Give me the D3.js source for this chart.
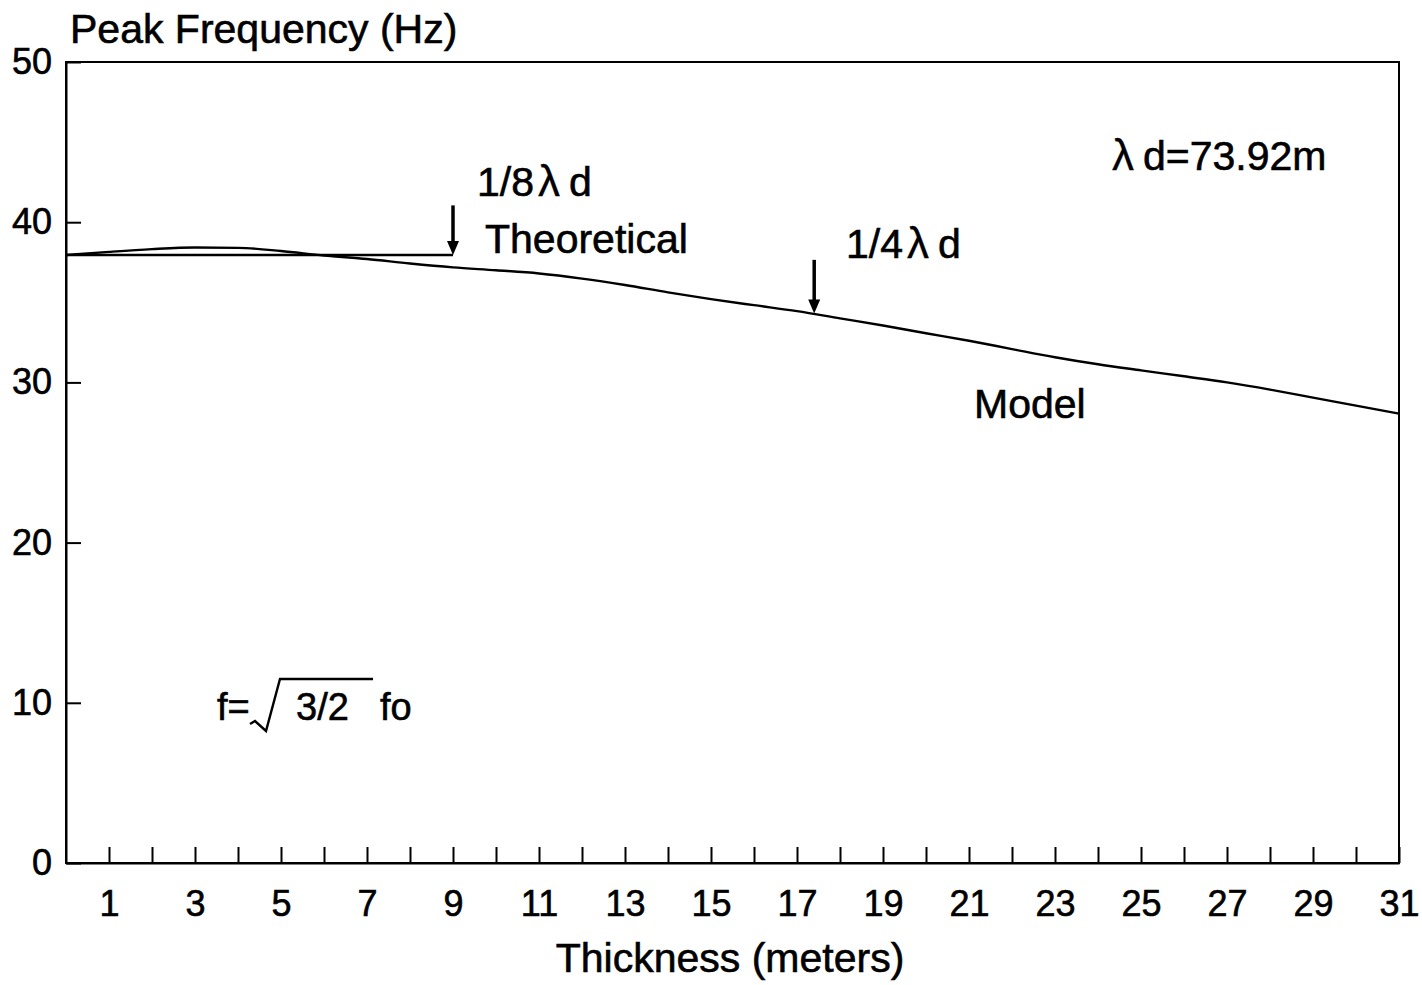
<!DOCTYPE html>
<html>
<head>
<meta charset="utf-8">
<script src="https://cdn.jsdelivr.net/npm/d3@7"></script>
<style>
  body { margin: 0; background: #fff; }
  svg { display: block; font-family: "Liberation Sans", Arial, Helvetica, sans-serif; }
  svg text { fill: #000; stroke: #000; stroke-width: 0.6px; }
  .axis path, .axis line { stroke: #000; stroke-width: 2; }
  .axis text { font-size: 36px; }
</style>
</head>
<body>
<div id="chart"></div>
<script>
// thickness in meters
const thickness = [0, 1, 2, 3, 4, 5, 6, 7, 8, 9, 10, 11, 12, 13, 14, 15, 16, 17, 18, 19, 20, 21, 22, 23, 24, 25, 26, 27, 28, 29, 30, 31];
// model peak frequency (Hz)
const modelFreq = [37.95, 38.15, 38.32, 38.42, 38.4, 38.2, 37.92, 37.7, 37.42, 37.18, 37.0, 36.8, 36.48, 36.08, 35.62, 35.2, 34.82, 34.45, 34.0, 33.55, 33.07, 32.6, 32.08, 31.57, 31.13, 30.75, 30.38, 30.0, 29.55, 29.05, 28.55, 28.05];
// theoretical tuning frequency, flat up to 1/8 lambda d
const theoThickness = [0, 9];
const theoFreq = [37.95, 37.95];

const xTicks = [1, 2, 3, 4, 5, 6, 7, 8, 9, 10, 11, 12, 13, 14, 15, 16, 17, 18, 19, 20, 21, 22, 23, 24, 25, 26, 27, 28, 29, 30, 31];
const xTickLabels = [1, 3, 5, 7, 9, 11, 13, 15, 17, 19, 21, 23, 25, 27, 29, 31];
const yTicks = [0, 10, 20, 30, 40, 50];

// arrows: [thickness, from Hz, to Hz]
const arrows = [[9, 41.05, 37.95], [17.4, 37.65, 34.3]];

const width = 1422;
const height = 985;

const svg = d3.select('#chart').append('svg')
  .attr('width', width)
  .attr('height', height);

const x = d3.scaleLinear().domain([0, 31]).range([66, 1399]);
const y = d3.scaleLinear().domain([0, 50]).range([863, 62]);

// frame
svg.append('rect')
  .attr('x', x(0))
  .attr('y', y(50))
  .attr('width', x(31) - x(0))
  .attr('height', y(0) - y(50))
  .attr('fill', 'none')
  .attr('stroke', '#000')
  .attr('stroke-width', 2);

svg.append('g')
  .attr('class', 'axis')
  .attr('transform', `translate(0, ${y(0)})`)
  .call(d3.axisBottom(x)
    .tickValues(xTicks)
    .tickSizeInner(-16)
    .tickSizeOuter(0)
    .tickPadding(27)
    .tickFormat(d => xTickLabels.includes(d) ? d : ''));

svg.append('g')
  .attr('class', 'axis')
  .attr('transform', `translate(${x(0)}, 0)`)
  .call(d3.axisLeft(y)
    .tickValues(yTicks)
    .tickSizeInner(-15)
    .tickSizeOuter(0)
    .tickPadding(14));

// axis titles
svg.append('text')
  .attr('x', 70)
  .attr('y', 43)
  .attr('font-size', 41)
  .text('Peak Frequency (Hz)');

svg.append('text')
  .attr('x', 730)
  .attr('y', 972)
  .attr('text-anchor', 'middle')
  .attr('font-size', 41)
  .text('Thickness (meters)');

// curves
const line = d3.line()
  .x(d => x(d[0]))
  .y(d => y(d[1]))
  .curve(d3.curveMonotoneX);

svg.append('path')
  .datum(d3.zip(thickness, modelFreq))
  .attr('d', line)
  .attr('fill', 'none')
  .attr('stroke', '#000')
  .attr('stroke-width', 2.4);

svg.append('path')
  .datum(d3.zip(theoThickness, theoFreq))
  .attr('d', d3.line().x(d => x(d[0])).y(d => y(d[1])))
  .attr('fill', 'none')
  .attr('stroke', '#000')
  .attr('stroke-width', 2.4);

// arrows: shaft plus a filled head ending on the curve
const arrowG = svg.selectAll('.arrow')
  .data(arrows)
  .join('g')
  .attr('class', 'arrow');

arrowG.append('line')
  .attr('x1', d => x(d[0]))
  .attr('x2', d => x(d[0]))
  .attr('y1', d => y(d[1]))
  .attr('y2', d => y(d[2]) - 10)
  .attr('stroke', '#000')
  .attr('stroke-width', 3.5);

arrowG.append('path')
  .attr('d', d => {
    const ax = x(d[0]);
    const ay = y(d[2]);
    return `M${ax - 6},${ay - 14}L${ax + 6},${ay - 14}L${ax},${ay}Z`;
  })
  .attr('fill', '#000');

// annotations: [before lambda, after lambda, x, y]
const notes = [
  ['1/8', 'd', 477, 196],
  ['Theoretical', null, 485, 253],
  ['1/4', 'd', 846, 258],
  ['Model', null, 974, 418],
  ['', 'd=73.92m', 1112, 170]
];

const noteText = svg.selectAll('.note')
  .data(notes)
  .join('text')
  .attr('class', 'note')
  .attr('x', d => d[2])
  .attr('y', d => d[3])
  .attr('font-size', 41);

noteText.append('tspan').text(d => d[0]);
noteText.filter(d => d[1] !== null).append('tspan')
  .attr('dx', d => d[0] ? 4 : 0)
  .style('stroke-width', 0.3)
  .attr('font-size', 44)
  .text('λ');
noteText.filter(d => d[1] !== null).append('tspan')
  .attr('dx', 9)
  .text(d => d[1]);

// f = sqrt(3/2) fo
const formula = svg.append('g').attr('transform', 'translate(217, 720)');
formula.append('text').attr('font-size', 38).text('f=');
formula.append('path')
  .attr('d', 'M33,4 L38,1 L49,11 L63,-41 L156,-41')
  .attr('fill', 'none')
  .attr('stroke', '#000')
  .attr('stroke-width', 2.4);
formula.append('text').attr('x', 79).attr('font-size', 38).text('3/2');
formula.append('text').attr('x', 163).attr('font-size', 38).text('fo');
</script>
</body>
</html>
